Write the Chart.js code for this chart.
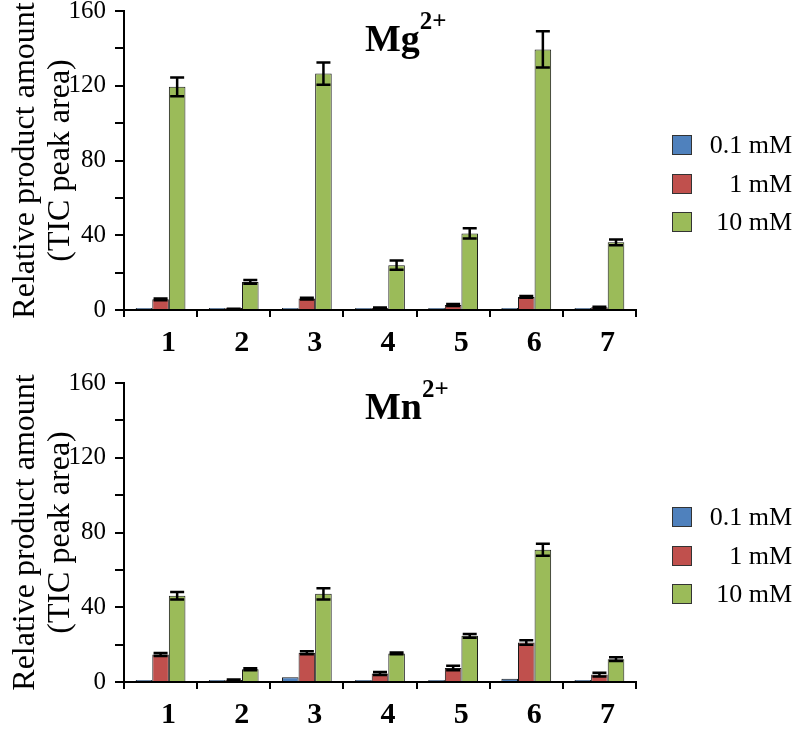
<!DOCTYPE html>
<html>
<head>
<meta charset="utf-8">
<script src="https://cdn.jsdelivr.net/npm/chart.js@4/dist/chart.umd.min.js"></script>
<style>
  html, body { margin: 0; padding: 0; background: #fff; overflow: hidden; }
  .panel { position: absolute; left: 0; width: 796px; height: 373px; }
  #top { top: -13px; }
  #bottom { top: 359px; }
</style>
</head>
<body>
<div class="panel" id="top"><canvas id="mgChart" width="796" height="373"></canvas></div>
<div class="panel" id="bottom"><canvas id="mnChart" width="796" height="373"></canvas></div>
<script>
// Relative product amount (TIC peak area) for compounds 1-7 at three metal concentrations
const categories = ['1', '2', '3', '4', '5', '6', '7'];
const seriesNames = ['0.1 mM', '1 mM', '10 mM'];
const seriesColors = ['#4f81bd', '#c0504d', '#9bbb59'];
const yTicks = [0, 40, 80, 120, 160];

// Mg2+ panel
const mg01 = [0.3, 0.3, 0.5, 0.3, 0.5, 0.5, 0.4];
const mg1 = [5.7, 0.5, 6.1, 1.0, 2.7, 7.0, 1.5];
const mg10 = [119.4, 15.0, 126.5, 24.0, 41.0, 139.4, 36.2];
const mg1Err = [0.5, 0.2, 0.5, 0.3, 0.5, 0.5, 0.3];
const mg10Err = [5.0, 1.0, 6.0, 2.5, 2.8, 9.7, 1.5];

// Mn2+ panel
const mn01 = [1.0, 0.5, 2.5, 0.3, 0.6, 1.8, 0.3];
const mn1 = [14.7, 1.0, 15.6, 4.5, 7.5, 21.2, 4.0];
const mn10 = [46.1, 6.8, 47.2, 15.3, 24.7, 70.8, 12.2];
const mn1Err = [0.8, 0.3, 0.8, 0.8, 1.2, 1.2, 1.0];
const mn10Err = [2.0, 0.5, 3.0, 0.5, 1.0, 3.2, 1.0];

const SERIF = "'Liberation Serif', 'Times New Roman', serif";

// error bars: vertical line with caps, centred on each bar
const errorBarPlugin = {
    id: 'errorBars',
    afterDatasetsDraw(chart) {
        const { ctx, scales: { y } } = chart;
        ctx.save();
        ctx.strokeStyle = '#000';
        ctx.lineWidth = 2.5;
        chart.data.datasets.forEach((ds, i) => {
            if (!ds.errors) return;
            const meta = chart.getDatasetMeta(i);
            meta.data.forEach((bar, j) => {
                const e = ds.errors[j];
                if (!e) return;
                const v = ds.data[j];
                const yTop = y.getPixelForValue(v + e);
                const yBot = y.getPixelForValue(v - e);
                const half = 7;
                ctx.beginPath();
                ctx.moveTo(bar.x, yTop); ctx.lineTo(bar.x, yBot);
                ctx.moveTo(bar.x - half, yTop); ctx.lineTo(bar.x + half, yTop);
                ctx.moveTo(bar.x - half, yBot); ctx.lineTo(bar.x + half, yBot);
                ctx.stroke();
            });
        });
        ctx.restore();
    }
};

// panel title with superscript charge, and the legend on the right
const panelDecor = {
    id: 'panelDecor',
    afterDraw(chart, args, opts) {
        const { ctx } = chart;
        ctx.save();
        ctx.fillStyle = '#000';
        ctx.textBaseline = 'alphabetic';
        ctx.textAlign = 'left';
        ctx.font = 'bold 38px ' + SERIF;
        ctx.fillText(opts.ion, 365, opts.titleY);
        const w = ctx.measureText(opts.ion).width;
        ctx.font = 'bold 25px ' + SERIF;
        ctx.fillText('2+', 365 + w, opts.titleY - 22);

        // legend
        const rows = [158, 197, 235];
        chart.data.datasets.forEach((ds, i) => {
            const cy = rows[i];
            ctx.fillStyle = ds.backgroundColor;
            ctx.fillRect(672, cy - 10, 20, 20);
            ctx.strokeStyle = '#333';
            ctx.lineWidth = 1;
            ctx.strokeRect(672.5, cy - 9.5, 19, 19);
            ctx.fillStyle = '#000';
            ctx.font = '26px ' + SERIF;
            ctx.textAlign = 'right';
            ctx.textBaseline = 'middle';
            ctx.fillText(ds.label, 792, cy + 1);
        });
        ctx.restore();
    }
};

function makeChart(id, s01, s1, s10, e1, e10, ion, titleY) {
    const values = [s01, s1, s10];
    const errs = [null, e1, e10];
    const datasets = seriesNames.map((name, i) => ({
        label: name,
        data: values[i],
        errors: errs[i],
        backgroundColor: seriesColors[i],
        borderColor: '#1a1a1a',
        borderWidth: 1,
        minBarLength: 2,
        categoryPercentage: 0.68,
        barPercentage: 1.0
    }));
    return new Chart(document.getElementById(id), {
        type: 'bar',
        data: { labels: categories, datasets },
        options: {
            responsive: false,
            animation: false,
            layout: { padding: { top: 15, right: 160, bottom: 0, left: 0 } },
            plugins: {
                legend: { display: false },
                tooltip: { enabled: false },
                panelDecor: { ion, titleY }
            },
            scales: {
                x: {
                    grid: { drawOnChartArea: false, tickLength: 7, color: '#000', lineWidth: 2 },
                    border: { color: '#000', width: 2 },
                    ticks: {
                        color: '#000',
                        font: { family: SERIF, size: 30, weight: 'bold' },
                        padding: 8,
                        labelOffset: 8,
                        maxRotation: 0
                    },
                    afterFit(scale) { scale.height = 50; }
                },
                y: {
                    min: 0, max: 160,
                    grid: { drawOnChartArea: false, tickLength: 9, color: '#000', lineWidth: 2 },
                    border: { color: '#000', width: 2 },
                    ticks: {
                        stepSize: 20,
                        color: '#000',
                        padding: 9,
                        font: { family: SERIF, size: 25 },
                        callback: v => (yTicks.includes(v) ? v : '')
                    },
                    title: {
                        display: true,
                        text: ['Relative product amount', '(TIC peak area)'],
                        color: '#000',
                        font: { family: SERIF, size: 32, lineHeight: 1.1 },
                        padding: { top: 8, bottom: 0 }
                    },
                    afterFit(scale) { scale.width = 124; }
                }
            }
        },
        plugins: [errorBarPlugin, panelDecor]
    });
}

makeChart('mgChart', mg01, mg1, mg10, mg1Err, mg10Err, 'Mg', 64);
makeChart('mnChart', mn01, mn1, mn10, mn1Err, mn10Err, 'Mn', 60);
</script>
</body>
</html>
